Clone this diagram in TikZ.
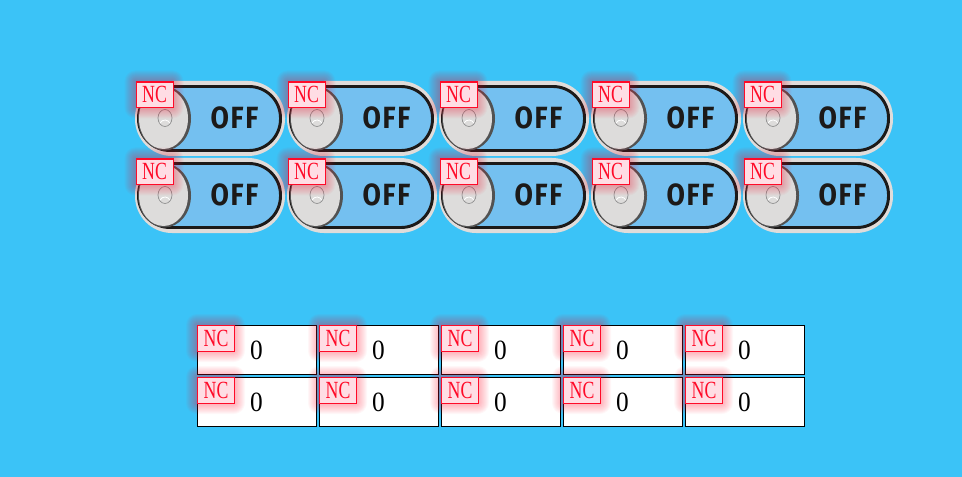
\documentclass[tikz,border=0pt]{standalone}
\usepackage{fontspec}
\usepackage{graphicx}
\setmainfont{Liberation Serif}
\newfontfamily\offfont{Fira Sans}[BoldFont=* Bold,LetterSpace=6]
\definecolor{bgblue}{HTML}{3BC3F7}
\definecolor{pillblue}{HTML}{74C0F0}
\definecolor{pillrim}{HTML}{E0DCDA}
\definecolor{knobgrey}{HTML}{DDDCDB}
\definecolor{ink}{HTML}{1C1A19}
\definecolor{ncred}{HTML}{FF0A28}
\definecolor{ncfill}{HTML}{FFDDE4}
\tikzset{
  rim/.style={fill=pillrim,rounded corners=37*0.75pt},
  pill/.style={fill=pillblue,draw=ink,line width=2.2pt,rounded corners=31.5*0.75pt},
  knobedge/.style={fill=black!68},
  knob/.style={fill=knobgrey},
  hole/.style={draw=black!45,line width=0.5pt,fill=knobgrey},
  offtext/.style={font=\offfont\bfseries\fontsize{21.5pt}{24pt}\selectfont,text=ink,inner sep=0pt},
  ncbox/.style={draw=ncred,fill=ncfill,line width=0.8pt,minimum width=37*0.75pt,minimum height=25.5*0.75pt,inner sep=0pt,text=ncred,font=\fontsize{18.5pt}{20pt}\selectfont},
  valbox/.style={draw=black,fill=white,line width=0.8pt,minimum width=119*0.75pt,minimum height=49*0.75pt,inner sep=0pt},
  valtext/.style={inner sep=0pt,font=\fontsize{19pt}{22pt}\selectfont,text=black},
}
\newcommand{\ncglow}[2]{%
  \foreach \g in {1,...,11}{
    \fill[ncred,opacity=0.032,rounded corners=\g*0.75pt]
      ({#1-\g*1.0},{#2-\g*1.0}) rectangle ({#1+37+\g*1.0},{#2+26+\g*1.0});
  }}
\newcommand{\nclabel}{\scalebox{0.72}[1]{NC}}
\begin{document}
\begin{tikzpicture}[x=0.75pt,y=-0.75pt]
\useasboundingbox (0,0) rectangle (962,477);
\fill[bgblue] (0,0) rectangle (962,477);
\foreach \r/\yy in {1/81,2/158}{
  \foreach \c in {0,...,4}{
    \pgfmathsetmacro{\xx}{135+152*\c}
    \fill[rim] (\xx,\yy) rectangle (\xx+150,\yy+75);
    \draw[pill] (\xx+3.5,\yy+5.5) rectangle (\xx+145.5,\yy+69.5);
    \fill[knobedge] (\xx+29.5,\yy+37.5) ellipse [x radius=26.5,y radius=32];
    \fill[knob] (\xx+28.5,\yy+37.5) ellipse [x radius=24.5,y radius=30.5];
    \draw[hole] (\xx+30,\yy+37) ellipse [x radius=7,y radius=8.5];
    \draw[white,line width=0.6pt] (\xx+25,\yy+42) arc[start angle=215,end angle=325,x radius=6,y radius=7];
    \node[offtext] (off-\r-\c) at (\xx+99.5,\yy+37) {\scalebox{0.93}[1.07]{OFF}};
  }
}
\foreach \r/\yy in {1/325,2/377}{
  \foreach \c in {0,...,4}{
    \pgfmathsetmacro{\xx}{197+122*\c}
    \node[valbox,anchor=north west] (val-\r-\c) at (\xx,\yy) {};
    \node[valtext] (num-\r-\c) at (\xx+59.5,\yy+25.5) {\scalebox{1}[1.1]{0}};
  }
}
\foreach \r/\yy in {1/81.5,2/158.5}{
  \foreach \c in {0,...,4}{
    \pgfmathsetmacro{\xx}{135.5+152*\c}
    \ncglow{\xx}{\yy}
  }
}
\foreach \r/\yy in {1/325,2/377}{
  \foreach \c in {0,...,4}{
    \pgfmathsetmacro{\xx}{197+122*\c}
    \ncglow{\xx}{\yy}
  }
}
\foreach \r/\yy in {1/81.5,2/158.5}{
  \foreach \c in {0,...,4}{
    \pgfmathsetmacro{\xx}{135.5+152*\c}
    \node[ncbox,anchor=north west] (nct-\r-\c) at (\xx,\yy) {\nclabel};
  }
}
\foreach \r/\yy in {1/325,2/377}{
  \foreach \c in {0,...,4}{
    \pgfmathsetmacro{\xx}{197+122*\c}
    \node[ncbox,anchor=north west] (ncb-\r-\c) at (\xx,\yy) {\nclabel};
  }
}
\end{tikzpicture}
\end{document}
